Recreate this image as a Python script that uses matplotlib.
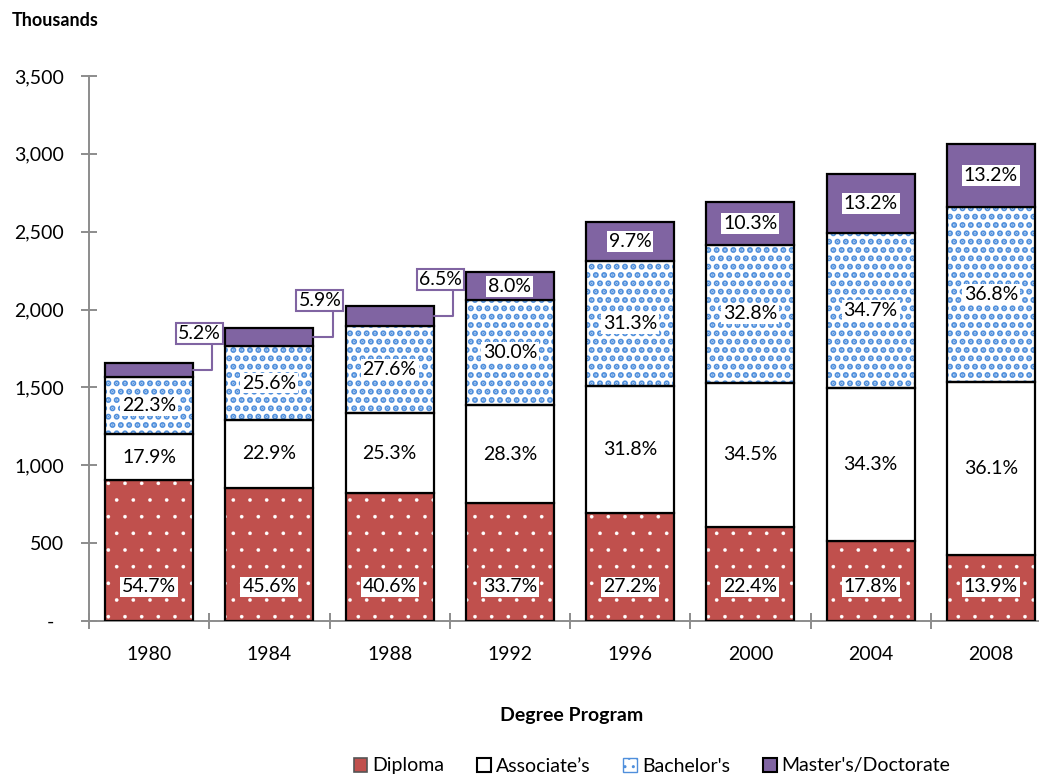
import numpy as np
import matplotlib
matplotlib.use("Agg")
import matplotlib.pyplot as plt
from matplotlib.patches import Patch

plt.rcParams["font.family"] = ["Lato", "DejaVu Sans"]

years = ["1980", "1984", "1988", "1992", "1996", "2000", "2004", "2008"]
totals = [1655, 1880, 2025, 2240, 2560, 2690, 2870, 3065]          # thousands
diploma_pct = [54.7, 45.6, 40.6, 33.7, 27.2, 22.4, 17.8, 13.9]
assoc_pct = [17.9, 22.9, 25.3, 28.3, 31.8, 34.5, 34.3, 36.1]
bach_pct = [22.3, 25.6, 27.6, 30.0, 31.3, 32.8, 34.7, 36.8]
master_pct = [5.2, 5.9, 6.5, 8.0, 9.7, 10.3, 13.2, 13.2]
series = ["Diploma", "Associate\u2019s", "Bachelor's", "Master's/Doctorate"]

RED, BLUE, PURPLE, AXG = "#c0504d", "#4f8fdc", "#8064a2", "#8c8c8c"
faces = [RED, "white", "white", PURPLE]
hatches = [".", None, "..", None]
hcols = ["white", None, BLUE, None]
hlws = [0.2, None, 3.0, None]
FS = 14

pcts = np.array([diploma_pct, assoc_pct, bach_pct, master_pct])
tot = np.array(totals, dtype=float)
vals = pcts / pcts.sum(axis=0) * tot

fig = plt.figure(figsize=(10.39, 7.76), dpi=100)
ax = fig.add_axes([89 / 1039, 155 / 776, 962 / 1039, 545 / 776])
x = np.arange(len(years))
w = 0.733

bottom = np.zeros(len(years))
for k in range(4):
    if hatches[k]:
        plt.rcParams["hatch.linewidth"] = hlws[k]
        ax.bar(x, vals[k], w, bottom=bottom, color=faces[k], hatch=hatches[k],
               edgecolor=hcols[k], linewidth=0, zorder=2)
        ax.bar(x, vals[k], w, bottom=bottom, fill=False, edgecolor="black", linewidth=1.6, zorder=3)
    else:
        ax.bar(x, vals[k], w, bottom=bottom, color=faces[k], edgecolor="black", linewidth=1.6, zorder=3)
    for i in range(len(years)):
        lab = "%.1f%%" % pcts[k, i]
        if k == 0:
            # label sits near the base of the segment
            ax.annotate(lab, (x[i], bottom[i]), xytext=(0, 24.5), textcoords="offset points",
                        ha="center", va="center", fontsize=FS, zorder=5,
                        bbox=dict(boxstyle="square,pad=0.1", fc="white", ec="none"))
        elif k == 3 and i < 3:
            mid = bottom[i] + vals[k, i] / 2
            ax.annotate(lab, (x[i] + w / 2, mid), xytext=(x[i] + 0.42, mid + 235),
                        ha="center", va="center", fontsize=FS, zorder=5,
                        bbox=dict(boxstyle="square,pad=0.1", fc="white", ec=PURPLE, lw=1.5),
                        arrowprops=dict(arrowstyle="-", color=PURPLE, lw=1.5, relpos=(0.8, 0),
                                        shrinkA=0, shrinkB=0,
                                        connectionstyle="angle,angleA=90,angleB=0,rad=0"))
        else:
            ax.text(x[i], bottom[i] + vals[k, i] / 2, lab, ha="center", va="center",
                    fontsize=FS, zorder=5,
                    bbox=dict(boxstyle="square,pad=0.1", fc="white", ec="none"))
    bottom += vals[k]

ax.set_xlim(-0.5, len(years) - 0.5)
ax.set_ylim(0, 3500)
ax.set_yticks(np.arange(0, 3501, 500))
ax.set_yticklabels(["-  "] + ["{:,}".format(v) for v in range(500, 3501, 500)])
ax.set_xticks(x)
ax.set_xticklabels(years)
ax.set_xticks(np.arange(-0.5, len(years)), minor=True)
for s in ["top", "right"]:
    ax.spines[s].set_visible(False)
for s in ["left", "bottom"]:
    ax.spines[s].set_color(AXG)
    ax.spines[s].set_linewidth(1.4)
ax.tick_params(axis="y", direction="inout", length=12, width=1.4, color=AXG, pad=12, labelsize=FS)
ax.tick_params(axis="x", which="major", length=0, pad=18, labelsize=FS)
ax.tick_params(axis="x", which="minor", direction="inout", length=11, width=1.4, color=AXG)

fig.text(12 / 1039, 1 - 20 / 776, "Thousands", fontsize=13, fontweight="bold", ha="left", va="center")
fig.text(572 / 1039, 1 - 715 / 776, "Degree Program", fontsize=14, fontweight="bold",
         ha="center", va="center")

plt.rcParams["hatch.linewidth"] = 1.0
handles = [Patch(facecolor=RED, edgecolor="#555555", lw=1.2),
           Patch(facecolor="white", edgecolor="black", lw=1.5),
           Patch(facecolor="white", edgecolor=BLUE, hatch="..", lw=1.0),
           Patch(facecolor=PURPLE, edgecolor="black", lw=1.5)]
fig.legend(handles, series, loc="center", bbox_to_anchor=(652 / 1039, 1 - 766 / 776), ncol=4,
           frameon=False, fontsize=FS, handlelength=0.7, handleheight=0.7,
           handletextpad=0.25, columnspacing=1.7, borderaxespad=0)

fig.savefig("out.png", dpi=100)
